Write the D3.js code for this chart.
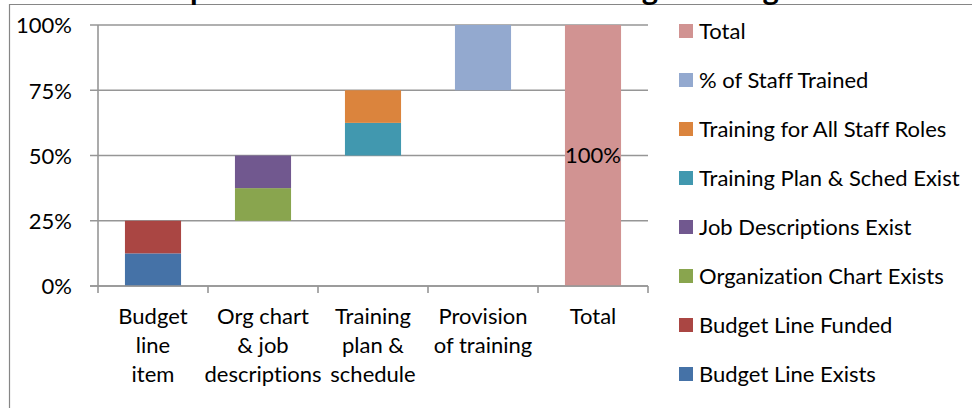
<!DOCTYPE html>
<html>
<head>
<meta charset="utf-8">
<script src="https://cdn.jsdelivr.net/npm/d3@7"></script>
<style>
  html, body { margin: 0; padding: 0; background: #fff; overflow: hidden; }
  svg { display: block; font-family: Lato, "Open Sans", sans-serif; font-variant-ligatures: none; }
</style>
</head>
<body>
<svg id="chart" width="972" height="408"></svg>
<script>
const categories = ["Budget line item", "Org chart & job descriptions", "Training plan & schedule", "Provision of training", "Total"];
const categoryLines = [["Budget", "line", "item"], ["Org chart", "& job", "descriptions"], ["Training", "plan &", "schedule"], ["Provision", "of training"], ["Total"]];

// invisible offset that makes the waterfall
const baseValues = [0, 0.25, 0.5, 0.75, 0];
const budgetLineExists = [0.125, 0, 0, 0, 0];
const budgetLineFunded = [0.125, 0, 0, 0, 0];
const orgChartExists = [0, 0.125, 0, 0, 0];
const jobDescriptionsExist = [0, 0.125, 0, 0, 0];
const trainingPlanExists = [0, 0, 0.125, 0, 0];
const trainingAllRoles = [0, 0, 0.125, 0, 0];
const staffTrained = [0, 0, 0, 0.25, 0];
const totalValues = [0, 0, 0, 0, 1];

const seriesNames = ["Budget Line Exists", "Budget Line Funded", "Organization Chart Exists", "Job Descriptions Exist",
  "Training Plan & Sched Exist", "Training for All Staff Roles", "% of Staff Trained", "Total"];
const seriesValues = [budgetLineExists, budgetLineFunded, orgChartExists, jobDescriptionsExist,
  trainingPlanExists, trainingAllRoles, staffTrained, totalValues];
const seriesColors = ["#4572A7", "#AA4643", "#89A54E", "#71588F", "#4198AF", "#DB843D", "#93A9CF", "#D19392"];

const yTicks = [0, 0.25, 0.5, 0.75, 1];

const svg = d3.select("#chart");
const gridColor = "#969696";

// table for d3.stack
const rows = categories.map((c, i) => {
  const r = { category: c, base: baseValues[i] };
  seriesNames.forEach((s, j) => r[s] = seriesValues[j][i]);
  return r;
});
const stacked = d3.stack().keys(["base", ...seriesNames])(rows);

const x = d3.scaleBand().domain(categories).range([98, 648]).paddingInner(0.49).paddingOuter(0.245);
const y = d3.scaleLinear().domain([0, 1]).range([286, 25]);

// outer frame (only left and top edges are in view)
svg.append("path")
  .attr("d", "M9.5,408V4.5H972")
  .attr("fill", "none")
  .attr("stroke", "#868686")
  .attr("stroke-width", 1.2);

// title, cut off at the top - only descenders show
svg.append("text")
  .attr("x", 126)
  .attr("y", 0)
  .attr("font-weight", "bold")
  .attr("font-size", 31)
  .text("Components of HR Infrastructure Programming");

// gridlines
svg.append("g")
  .selectAll("line")
  .data(yTicks)
  .join("line")
  .attr("x1", 90).attr("x2", 648)
  .attr("y1", d => y(d)).attr("y2", d => y(d))
  .attr("stroke", gridColor)
  .attr("stroke-width", 1.6);

// y labels
svg.append("g")
  .attr("transform", "translate(90,0)")
  .call(d3.axisLeft(y).tickValues(yTicks).tickFormat(d3.format(".0%")).tickSize(0).tickPadding(18))
  .call(g => g.select(".domain").remove())
  .call(g => g.selectAll("text")
    .attr("font-family", "Lato, sans-serif")
    .attr("font-size", 22)
    .attr("fill", "#000")
    .attr("dy", "0.36em"));

// bars
svg.append("g")
  .selectAll("g")
  .data(stacked.filter(s => s.key !== "base"))
  .join("g")
  .attr("fill", s => seriesColors[seriesNames.indexOf(s.key)])
  .selectAll("rect")
  .data(s => s.filter(d => d[1] > d[0]))
  .join("rect")
  .attr("x", d => x(d.data.category))
  .attr("width", x.bandwidth())
  .attr("y", d => y(d[1]))
  .attr("height", d => y(d[0]) - y(d[1]));

// y axis line
svg.append("line")
  .attr("x1", 98).attr("x2", 98)
  .attr("y1", y(1)).attr("y2", y(0))
  .attr("stroke", gridColor)
  .attr("stroke-width", 1.6);

// x axis line and ticks at category boundaries
const bounds = categories.map(c => x(c) + x.bandwidth() / 2 - x.step() / 2);
bounds.push(bounds[bounds.length - 1] + x.step());
svg.append("line")
  .attr("x1", 90).attr("x2", 648)
  .attr("y1", y(0)).attr("y2", y(0))
  .attr("stroke", gridColor)
  .attr("stroke-width", 1.6);
svg.append("g")
  .selectAll("line")
  .data(bounds)
  .join("line")
  .attr("x1", d => d).attr("x2", d => d)
  .attr("y1", y(0)).attr("y2", y(0) + 7)
  .attr("stroke", gridColor)
  .attr("stroke-width", 1.6);

// x labels
svg.append("g")
  .selectAll("text")
  .data(categories)
  .join("text")
  .attr("text-anchor", "middle")
  .attr("font-size", 22)
  .attr("y", 324)
  .selectAll("tspan")
  .data((c, i) => categoryLines[i].map(l => ({ l, cx: x(c) + x.bandwidth() / 2 })))
  .join("tspan")
  .attr("x", d => d.cx)
  .attr("dy", (d, i) => i === 0 ? 0 : 29)
  .text(d => d.l);

// data label on Total bar
const totalIdx = categories.length - 1;
svg.append("text")
  .attr("x", x(categories[totalIdx]) + x.bandwidth() / 2)
  .attr("y", y(totalValues[totalIdx] / 2))
  .attr("dy", "0.36em")
  .attr("text-anchor", "middle")
  .attr("font-size", 22)
  .text(d3.format(".0%")(totalValues[totalIdx]));

// legend (reverse order, Total first)
const legendItems = seriesNames.map((n, i) => ({ n, c: seriesColors[i] })).reverse();
const legend = svg.append("g")
  .selectAll("g")
  .data(legendItems)
  .join("g")
  .attr("transform", (d, i) => `translate(679,${31 + i * 49})`);
legend.append("rect")
  .attr("x", 0).attr("y", -7)
  .attr("width", 14).attr("height", 14)
  .attr("fill", d => d.c);
legend.append("text")
  .attr("x", 20)
  .attr("y", 7.5)
  .attr("font-size", 22)
  .text(d => d.n);
</script>
</body>
</html>
